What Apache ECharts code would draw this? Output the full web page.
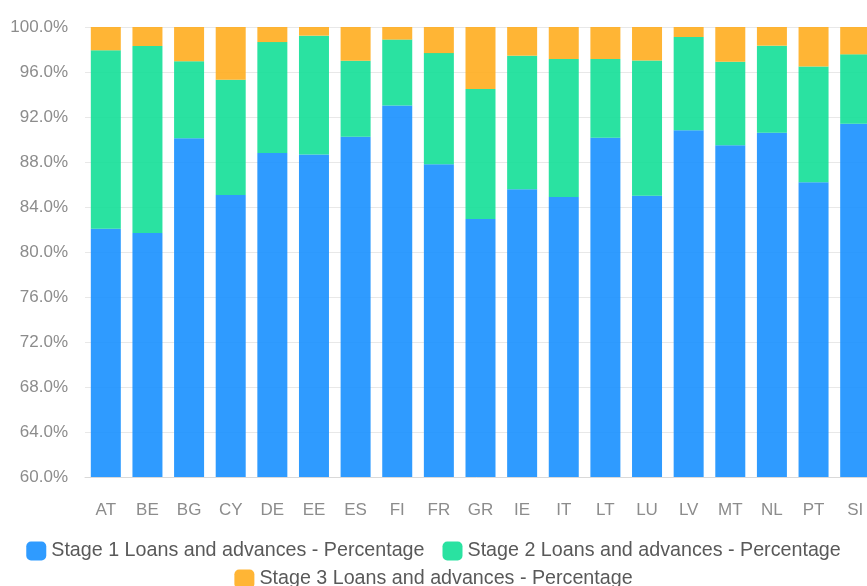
<!DOCTYPE html>
<html>
<head>
<meta charset="utf-8">
<script src="https://cdn.jsdelivr.net/npm/echarts@6/dist/echarts.min.js"></script>
<style>
  html, body { margin: 0; padding: 0; background: #fff; }
  #chart { width: 867px; height: 586px; }
</style>
</head>
<body>
<div id="chart"></div>
<script>
// Country codes along the x axis
const countries = ['AT', 'BE', 'BG', 'CY', 'DE', 'EE', 'ES', 'FI', 'FR', 'GR',
                   'IE', 'IT', 'LT', 'LU', 'LV', 'MT', 'NL', 'PT', 'SI'];

// Share of loans and advances by IFRS 9 stage (percent)
const stage1 = [82.07, 81.69, 90.12, 85.07, 88.81, 88.66, 90.24, 93.03, 87.80, 82.94,
                85.57, 84.90, 90.15, 84.99, 90.83, 89.49, 90.60, 86.20, 91.40];
const stage2 = [15.86, 16.62, 6.83, 10.24, 9.85, 10.57, 6.76, 5.85, 9.88, 11.54,
                11.88, 12.25, 7.00, 12.04, 8.28, 7.43, 7.74, 10.30, 6.17];
const stage3 = [2.07, 1.69, 3.05, 4.69, 1.34, 0.77, 3.00, 1.12, 2.32, 5.52,
                2.55, 2.85, 2.85, 2.97, 0.89, 3.08, 1.66, 3.50, 2.43];

const seriesNames = [
  'Stage 1 Loans and advances - Percentage',
  'Stage 2 Loans and advances - Percentage',
  'Stage 3 Loans and advances - Percentage'
];

const colors = ['#1890ff', '#13df97', '#ffad1f'];

const chart = echarts.init(document.getElementById('chart'));

const makeSeries = (name, data) => ({
  name: name,
  type: 'bar',
  stack: 'total',
  barWidth: 30,
  data: data,
  itemStyle: { opacity: 0.9 },
  emphasis: { disabled: true }
});

// Legend rows, each centred on its own
const legendRow = (top, names) => ({
  top: top,
  left: 'center',
  itemWidth: 20,
  itemHeight: 19,
  itemGap: 18,
  icon: 'roundRect',
  textStyle: { fontSize: 19.7, color: '#595959' },
  data: names
});

chart.setOption({
  animation: false,
  color: colors,
  textStyle: { fontFamily: 'Liberation Sans, Arial, sans-serif' },
  // the plot runs slightly past the right edge of the canvas
  grid: { left: 85, top: 27, width: 791, height: 450, outerBoundsMode: 'none' },
  legend: [
    legendRow(536, seriesNames.slice(0, 2)),
    legendRow(564, seriesNames.slice(2))
  ],
  xAxis: {
    type: 'category',
    data: countries,
    axisLine: { lineStyle: { color: '#d9d9d9' } },
    axisTick: { length: 10, lineStyle: { color: '#d9d9d9' } },
    axisLabel: { color: '#8c8c8c', fontSize: 17, margin: 25 }
  },
  yAxis: {
    type: 'value',
    min: 60,
    max: 100,
    interval: 4,
    axisLine: { show: false },
    axisTick: { show: false },
    splitLine: { lineStyle: { color: '#e8e8e8' } },
    axisLabel: {
      color: '#8c8c8c',
      fontSize: 17,
      margin: 17,
      formatter: v => v.toFixed(1) + '%'
    }
  },
  series: [
    makeSeries(seriesNames[0], stage1),
    makeSeries(seriesNames[1], stage2),
    makeSeries(seriesNames[2], stage3)
  ]
});
</script>
</body>
</html>
